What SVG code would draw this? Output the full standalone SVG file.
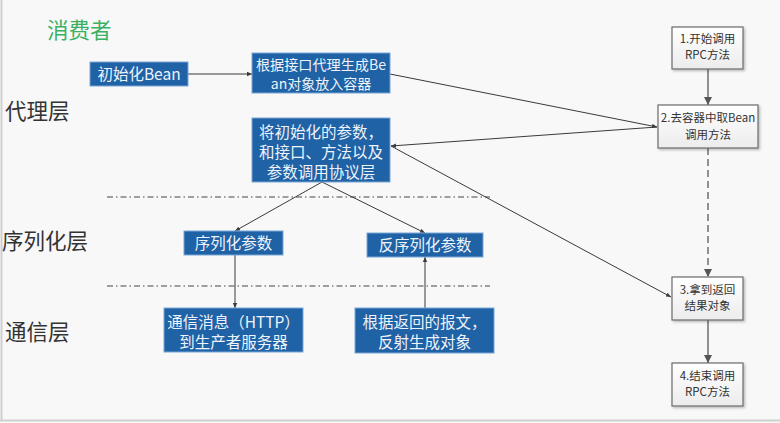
<svg xmlns="http://www.w3.org/2000/svg" width="780" height="423" viewBox="0 0 780 423">
<style>
text{font-family:"Noto Sans CJK SC","Liberation Sans",sans-serif}
.bb{fill:#1f62a6;stroke:#7aa6d6;stroke-width:1}
.bt{fill:#eef3fa;font-size:15.5px;text-anchor:middle}
.wb{fill:url(#wg);stroke:#6b6b6b;stroke-width:1.2}
.wt{fill:#333;font-size:11.5px;text-anchor:middle}
.lay{fill:#333;font-size:21.5px}
.ln{stroke:#3a3a3a;stroke-width:1;fill:none}
.gl{stroke:#777;stroke-width:1.6;fill:none}
.dd{stroke:#444;stroke-width:1;stroke-dasharray:6 3 1.5 3;fill:none}
</style>
<defs>
<linearGradient id="wg" x1="0" y1="0" x2="0" y2="1"><stop offset="0" stop-color="#ffffff"/><stop offset="1" stop-color="#ececec"/></linearGradient>
<filter id="sh" x="-10%" y="-10%" width="130%" height="130%"><feDropShadow dx="1.5" dy="1.5" stdDeviation="1" flood-color="#000" flood-opacity="0.25"/></filter>
<marker id="a" markerWidth="6" markerHeight="6" refX="5" refY="3" orient="auto" markerUnits="userSpaceOnUse"><path d="M0,0.8 L5,3 L0,5.2z" fill="#3a3a3a"/></marker>
<marker id="g" markerWidth="9" markerHeight="8" refX="8" refY="4" orient="auto" markerUnits="userSpaceOnUse"><path d="M0,0 L8,4 L0,8z" fill="#555"/></marker>
</defs>
<rect x="0" y="0" width="780" height="423" fill="#f8f8f8"/>
<line x1="1.5" y1="0" x2="1.5" y2="421" stroke="#cfcfcf" stroke-width="2"/>
<line x1="0" y1="420.5" x2="780" y2="420.5" stroke="#cfcfcf" stroke-width="2"/>

<text x="47" y="38" style="fill:#3bb064;font-size:21.5px">消费者</text>
<text class="lay" x="5" y="119">代理层</text>
<text class="lay" x="2" y="249">序列化层</text>
<text class="lay" x="5" y="340">通信层</text>

<line class="dd" x1="107" y1="197" x2="490" y2="197"/>
<line class="dd" x1="107" y1="286" x2="490" y2="286"/>

<g id="connectors">
<line class="ln" x1="188" y1="74" x2="252" y2="74" marker-end="url(#a)"/>
<line class="ln" x1="390" y1="74" x2="657" y2="127" marker-end="url(#a)"/>
<line class="ln" x1="657" y1="127" x2="391" y2="146" marker-end="url(#a)"/>
<line class="ln" x1="391" y1="146" x2="671" y2="297" marker-end="url(#a)"/>
<line class="ln" x1="322" y1="182" x2="235" y2="231" marker-end="url(#a)"/>
<line class="ln" x1="322" y1="182" x2="425" y2="233" marker-end="url(#a)"/>
<line class="ln" x1="235" y1="255" x2="235" y2="308" marker-end="url(#a)"/>
<line class="ln" x1="425" y1="308" x2="425" y2="257" marker-end="url(#a)"/>
<line class="gl" x1="708" y1="69" x2="708" y2="105" marker-end="url(#g)"/>
<line class="gl" x1="708" y1="148" x2="708" y2="277" stroke-dasharray="7 4" marker-end="url(#g)"/>
<line class="gl" x1="708" y1="320" x2="708" y2="363" marker-end="url(#g)"/>
</g>

<g id="init-bean"><rect class="bb" x="90" y="62" width="98" height="24"/><text class="bt" x="139" y="80">初始化Bean</text></g>
<g id="proxy-bean"><rect class="bb" x="252" y="53" width="138" height="40"/><text class="bt" x="321" y="70" style="font-size:14px" textLength="130" lengthAdjust="spacingAndGlyphs">根据接口代理生成Be</text><text class="bt" x="321" y="89" style="font-size:14px">an对象放入容器</text></g>
<g id="params"><rect class="bb" x="252" y="118" width="138" height="64"/><text class="bt" x="321" y="138">将初始化的参数，</text><text class="bt" x="321" y="158">和接口、方法以及</text><text class="bt" x="321" y="178">参数调用协议层</text></g>
<g id="serialize"><rect class="bb" x="184" y="231" width="99" height="24"/><text class="bt" x="233.5" y="249">序列化参数</text></g>
<g id="deserialize"><rect class="bb" x="367" y="233" width="116" height="24"/><text class="bt" x="425" y="251">反序列化参数</text></g>
<g id="http"><rect class="bb" x="164" y="308" width="139" height="44"/><text class="bt" x="233.5" y="328">通信消息（HTTP）</text><text class="bt" x="233.5" y="348">到生产者服务器</text></g>
<g id="reflect"><rect class="bb" x="355" y="308" width="139" height="45"/><text class="bt" x="424.5" y="328">根据返回的报文，</text><text class="bt" x="424.5" y="348">反射生成对象</text></g>

<g id="step1"><rect class="wb" filter="url(#sh)" x="672" y="27" width="71" height="42"/><text class="wt" x="707.5" y="43">1.开始调用</text><text class="wt" x="707.5" y="59">RPC方法</text></g>
<g id="step2"><rect class="wb" filter="url(#sh)" x="658" y="105" width="100" height="43"/><text class="wt" x="708" y="122">2.去容器中取Bean</text><text class="wt" x="708" y="139">调用方法</text></g>
<g id="step3"><rect class="wb" filter="url(#sh)" x="672" y="277" width="71" height="43"/><text class="wt" x="707.5" y="294">3.拿到返回</text><text class="wt" x="707.5" y="310">结果对象</text></g>
<g id="step4"><rect class="wb" filter="url(#sh)" x="672" y="363" width="71" height="43"/><text class="wt" x="707.5" y="380">4.结束调用</text><text class="wt" x="707.5" y="396">RPC方法</text></g>
</svg>
